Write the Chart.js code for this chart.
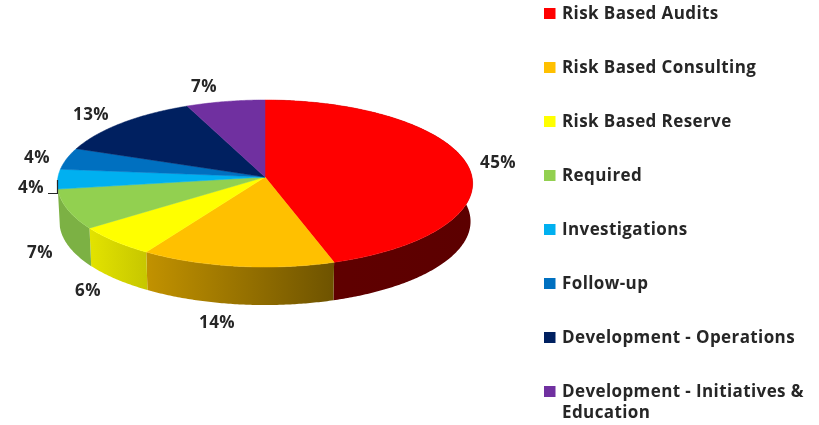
<!DOCTYPE html>
<html>
<head>
<meta charset="utf-8">
<style>
  html, body { margin:0; padding:0; background:#fff; }
  canvas { display:block; filter:blur(0.45px); }
</style>
<script src="https://cdn.jsdelivr.net/npm/chart.js@4/dist/chart.umd.min.js"></script>
</head>
<body>
<canvas id="chartPie" width="819" height="425"></canvas>
<script>
const categories = ['Risk Based Audits', 'Risk Based Consulting', 'Risk Based Reserve', 'Required',
  'Investigations', 'Follow-up', 'Development - Operations', 'Development - Initiatives & Education'];
// wedge sizes, the printed labels are rounded differently
const wedgeSizes = [45, 14, 6, 7.7, 3.8, 4.2, 12.7, 6.6];
const percentLabels = ['45%', '14%', '6%', '7%', '4%', '4%', '13%', '7%'];
const sliceColors = ['#FF0000', '#FFC000', '#FFFF00', '#92D050', '#00B0F0', '#0070C0', '#002060', '#7030A0'];

// shade of the side wall, left end and right end of each slice (back slices show no wall)
const wallShades = [[.38,.36], [.76,.43], [.89,.78], [.85,.85]];
const labelSpots = [[498,163], [217,323], [88,291], [40,253], [31,188], [37,158], [91,115], [204,87]];

const FONT = 'bold 17px "Open Sans"';
const TEXT = '#262626';
const TILT = 0.401;   // flattening of the disc
const PERSP = 0.078;  // near edge looks bigger than far edge
const DEPTH = 38;
const FLOOR = 0.99;

function project(el, angle, radius){
  const u = Math.cos(angle), v = Math.sin(angle);
  const w = 1 - PERSP * (radius / el.outerRadius) * v;
  return { x: el.x + radius * u / w, y: el.y + radius * TILT * v / w };
}

function rim(el){
  const pts = [];
  const n = Math.max(4, Math.ceil((el.endAngle - el.startAngle) / 0.01));
  for (let i = 0; i <= n; i++){
    pts.push(project(el, el.startAngle + (el.endAngle - el.startAngle) * i / n, el.outerRadius));
  }
  return pts;
}

function shade(hex, f){
  const n = parseInt(hex.slice(1), 16);
  return `rgb(${Math.round((n>>16&255)*f)},${Math.round((n>>8&255)*f)},${Math.round((n&255)*f)})`;
}

// Chart.js arcs can only be squashed evenly, so the slices are painted from its arc elements
const disc3d = {
  id: 'disc3d',
  beforeDatasetsDraw(chart){
    const ctx = chart.ctx;
    const arcs = chart.getDatasetMeta(0).data;

    wallShades.forEach((sh, i) => {
      const el = arcs[i];
      const top = rim(el);
      const floor = top.map(p => ({ x: el.x + (p.x - el.x) * FLOOR, y: p.y + DEPTH }));
      const xs = top.map(p => p.x);
      const g = ctx.createLinearGradient(Math.min(...xs), 0, Math.max(...xs), 0);
      g.addColorStop(0, shade(sliceColors[i], sh[0]));
      g.addColorStop(1, shade(sliceColors[i], sh[1]));
      ctx.beginPath();
      top.forEach((p, k) => k ? ctx.lineTo(p.x, p.y) : ctx.moveTo(p.x, p.y));
      floor.reverse().forEach(p => ctx.lineTo(p.x, p.y));
      ctx.closePath();
      ctx.fillStyle = g;
      ctx.fill();
    });

    arcs.forEach((el, i) => {
      ctx.beginPath();
      ctx.moveTo(el.x, el.y);
      rim(el).forEach(p => ctx.lineTo(p.x, p.y));
      ctx.closePath();
      ctx.fillStyle = sliceColors[i];
      ctx.strokeStyle = sliceColors[i];
      ctx.lineWidth = 0.5;
      ctx.fill();
      ctx.stroke();
    });
    return false;
  },
  afterDraw(chart){
    const ctx = chart.ctx;
    ctx.save();
    ctx.font = FONT;
    ctx.letterSpacing = '0.4px';
    ctx.fillStyle = TEXT;

    // percent labels
    ctx.textAlign = 'center';
    ctx.textBaseline = 'middle';
    percentLabels.forEach((t, i) => ctx.fillText(t, labelSpots[i][0], labelSpots[i][1]));

    // leader of the lower 4%
    ctx.strokeStyle = TEXT;
    ctx.lineWidth = 1.2;
    ctx.beginPath();
    ctx.moveTo(48, 193.5);
    ctx.lineTo(57.5, 193.5);
    ctx.lineTo(57.5, 180);
    ctx.stroke();

    // legend
    ctx.textAlign = 'left';
    categories.forEach((name, i) => {
      const y = 13.5 + i * 54;
      ctx.fillStyle = sliceColors[i];
      ctx.fillRect(544, y - 5.5, 11.5, 11);
      ctx.fillStyle = TEXT;
      if (name.includes(' & ')){
        const parts = name.split(' & ');
        ctx.fillText(parts[0] + ' &', 562, y + 1);
        ctx.fillText(parts[1], 562, y + 22);
      } else {
        ctx.fillText(name, 562, y + 1);
      }
    });
    ctx.restore();
  }
};

new Chart(document.getElementById('chartPie'), {
  type: 'pie',
  data: {
    labels: categories,
    datasets: [{ data: wedgeSizes, backgroundColor: sliceColors, borderWidth: 0, clip: false }]
  },
  options: {
    responsive: false,
    animation: false,
    radius: 207,
    layout: { padding: { right: 289, bottom: 71 } },
    plugins: { legend: { display: false }, tooltip: { enabled: false } }
  },
  plugins: [disc3d]
});
</script>
</body>
</html>
